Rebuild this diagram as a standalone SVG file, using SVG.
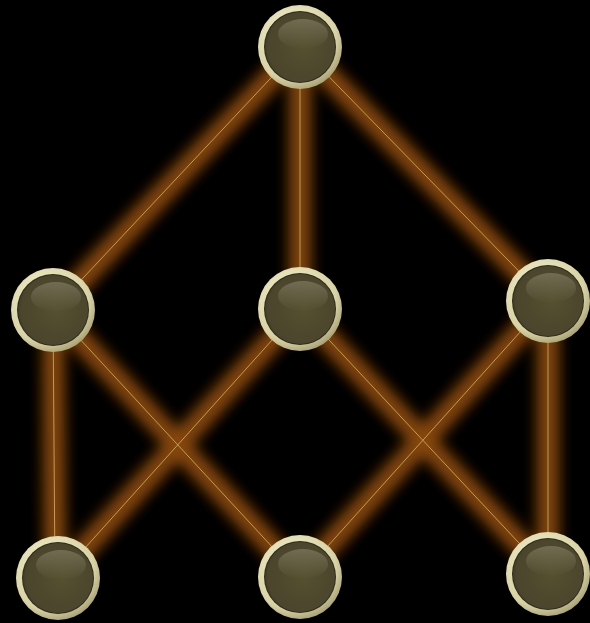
<svg xmlns="http://www.w3.org/2000/svg" width="590" height="623" viewBox="0 0 590 623">
<defs>
<filter id="glow" x="-30%" y="-30%" width="160%" height="160%"><feGaussianBlur stdDeviation="7"/></filter>
<radialGradient id="ring" cx="0.4" cy="0.35" r="0.7">
<stop offset="0" stop-color="#f6f2d0"/><stop offset="0.75" stop-color="#d8d2a4"/><stop offset="1" stop-color="#a39c70"/>
</radialGradient>
<radialGradient id="face" cx="0.55" cy="0.5" r="0.6">
<stop offset="0" stop-color="#55502f"/><stop offset="0.85" stop-color="#4a452c"/><stop offset="1" stop-color="#36321f"/>
</radialGradient>
<linearGradient id="shine" x1="0" y1="0" x2="0" y2="1">
<stop offset="0" stop-color="#a9a48a" stop-opacity="0.4"/><stop offset="1" stop-color="#a9a48a" stop-opacity="0"/>
</linearGradient>
<g id="node">
<circle r="42" fill="url(#ring)"/>
<circle r="36" fill="#2e2b1c"/>
<circle r="35" fill="url(#face)"/>
<ellipse cx="3" cy="-13" rx="25" ry="15" fill="url(#shine)"/>
</g>
</defs>
<style>
.glow{stroke:#9c520a;stroke-width:22;fill:none;filter:url(#glow);opacity:0.85}
.core{stroke:#cdb472;stroke-width:1;fill:none;opacity:0.8}
</style>
<rect width="590" height="623" fill="#000"/>
<g id="connectors">
<g class="glow">
<line x1="300" y1="47" x2="53" y2="310"/>
<line x1="300" y1="47" x2="300" y2="309"/>
<line x1="300" y1="47" x2="548" y2="301"/>
<line x1="53" y1="310" x2="55" y2="578"/>
<line x1="53" y1="310" x2="300" y2="577"/>
<line x1="300" y1="309" x2="58" y2="578"/>
<line x1="300" y1="309" x2="548" y2="574"/>
<line x1="548" y1="301" x2="300" y2="577"/>
<line x1="548" y1="301" x2="548" y2="574"/>
</g>
<g class="core">
<line x1="300" y1="47" x2="53" y2="310"/>
<line x1="300" y1="47" x2="300" y2="309"/>
<line x1="300" y1="47" x2="548" y2="301"/>
<line x1="53" y1="310" x2="55" y2="578"/>
<line x1="53" y1="310" x2="300" y2="577"/>
<line x1="300" y1="309" x2="58" y2="578"/>
<line x1="300" y1="309" x2="548" y2="574"/>
<line x1="548" y1="301" x2="300" y2="577"/>
<line x1="548" y1="301" x2="548" y2="574"/>
</g>
</g>
<g id="n-top"><use href="#node" x="300" y="47"/></g>
<g id="n-midleft"><use href="#node" x="53" y="310"/></g>
<g id="n-midcenter"><use href="#node" x="300" y="309"/></g>
<g id="n-midright"><use href="#node" x="548" y="301"/></g>
<g id="n-botleft"><use href="#node" x="58" y="578"/></g>
<g id="n-botcenter"><use href="#node" x="300" y="577"/></g>
<g id="n-botright"><use href="#node" x="548" y="574"/></g>
</svg>
